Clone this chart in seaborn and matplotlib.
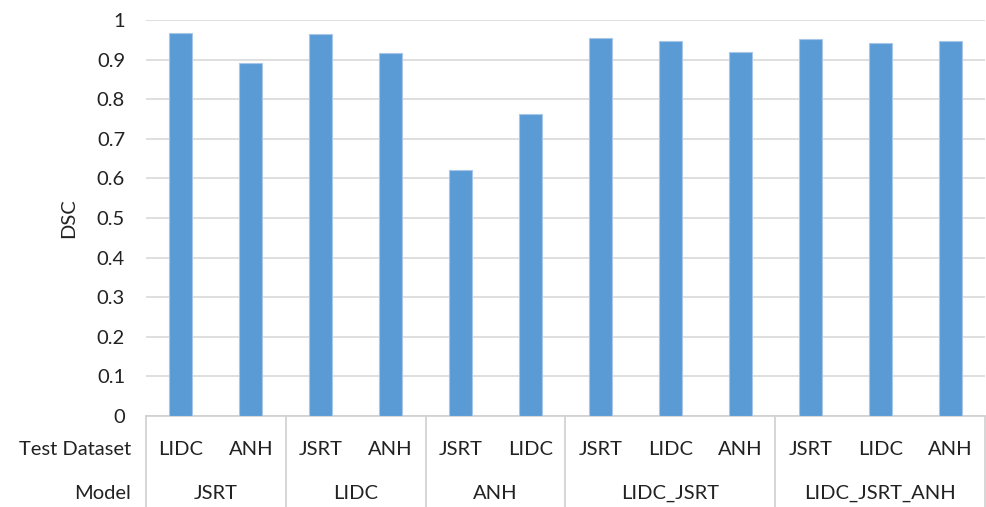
import pandas as pd
import matplotlib.pyplot as plt
import matplotlib.transforms as mtransforms
import seaborn as sns

models = ['JSRT', 'JSRT', 'LIDC', 'LIDC', 'ANH', 'ANH',
          'LIDC_JSRT', 'LIDC_JSRT', 'LIDC_JSRT',
          'LIDC_JSRT_ANH', 'LIDC_JSRT_ANH', 'LIDC_JSRT_ANH']
test_sets = ['LIDC', 'ANH', 'JSRT', 'ANH', 'JSRT', 'LIDC',
             'JSRT', 'LIDC', 'ANH', 'JSRT', 'LIDC', 'ANH']
dsc = [0.966, 0.891, 0.964, 0.917, 0.622, 0.763,
       0.955, 0.948, 0.920, 0.951, 0.943, 0.948]

df = pd.DataFrame({'model': models, 'test': test_sets, 'dsc': dsc})
df['slot'] = [f'{m}|{t}' for m, t in zip(models, test_sets)]

sns.set_style('white')
plt.rcParams['font.family'] = ['Lato', 'DejaVu Sans']
fs = 14.5
txt = '#222222'

fig = plt.figure(figsize=(9.86, 5.07), dpi=100)
ax = fig.add_axes([0.148, 0.1795, 0.851, 0.781])

sns.barplot(data=df, x='slot', y='dsc', order=list(df['slot']),
            color='#5b9bd5', width=0.33, edgecolor='#a7c6e8',
            linewidth=0.8, saturation=1, ax=ax, zorder=3)

ax.set_ylim(0, 1)
ax.set_xlim(-0.5, len(dsc) - 0.5)
ax.set_yticks([i / 10 for i in range(11)])
ax.set_yticklabels(['0'] + [f'{i / 10:.1f}' for i in range(1, 10)] + ['1'],
                   fontsize=fs, color=txt)
ax.yaxis.grid(True, color='#d9d9d9', linewidth=1.2, zorder=0)
ax.set_axisbelow(True)
for s in ['top', 'right', 'left']:
    ax.spines[s].set_visible(False)
ax.spines['bottom'].set_color('#d0d0d0')
ax.spines['bottom'].set_linewidth(1.2)
ax.tick_params(axis='both', length=0)
ax.tick_params(axis='y', pad=15)

ax.set_xticks(range(len(test_sets)))
ax.set_xticklabels(test_sets, fontsize=fs, color=txt)
ax.tick_params(axis='x', pad=18)
ax.set_xlabel('')
ax.set_ylabel('DSC', fontsize=fs, color=txt)
ax.yaxis.set_label_coords(-0.082, 0.5)

trans = mtransforms.blended_transform_factory(ax.transData, ax.transAxes)
trans_fig = mtransforms.blended_transform_factory(fig.transFigure, ax.transAxes)

# model groups: label under each block, separators between blocks
groups = []
for i, m in enumerate(models):
    if groups and groups[-1][0] == m:
        groups[-1][2] = i
    else:
        groups.append([m, i, i])
bounds = [-0.5] + [g[2] + 0.5 for g in groups]
for b in bounds:
    ax.plot([b, b], [0, -0.235], transform=trans, color='#d0d0d0',
            linewidth=1.2, clip_on=False)
for m, a, b in groups:
    ax.text((a + b) / 2, -0.196, m, transform=trans, ha='center', va='center',
            fontsize=fs, color=txt)

ax.text(131 / 986, -0.084, 'Test Dataset', transform=trans_fig, ha='right',
        va='center', fontsize=fs, color=txt)
ax.text(131 / 986, -0.196, 'Model', transform=trans_fig, ha='right',
        va='center', fontsize=fs, color=txt)

fig.savefig('out.png', dpi=100)
